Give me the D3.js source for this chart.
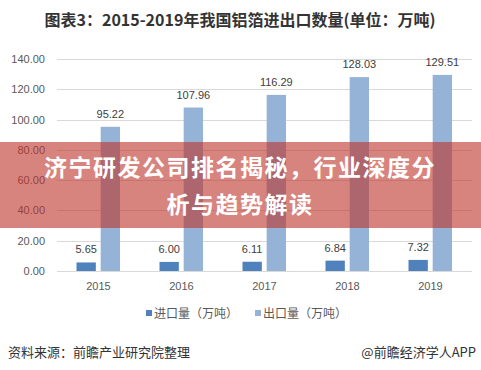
<!DOCTYPE html>
<html>
<head>
<meta charset="utf-8">
<script src="https://cdn.jsdelivr.net/npm/d3@7/dist/d3.min.js"></script>
<style>
  html, body { margin: 0; padding: 0; background: #fff; }
  svg { display: block; }
  .grid line { stroke: #d9d9d9; stroke-width: 1; }
  .tick-label { font-family: "Liberation Sans", Arial, sans-serif; font-size: 11px; fill: #595959; }
  .data-label { font-family: "Liberation Sans", Arial, sans-serif; font-size: 11px; fill: #404040; }
</style>
</head>
<body>
<script>
// chart values
const years = ["2015", "2016", "2017", "2018", "2019"];
const importValues = [5.65, 6.00, 6.11, 6.84, 7.32];
const exportValues = [95.22, 107.96, 116.29, 128.03, 129.51];
const seriesNames = ["进口量（万吨）", "出口量（万吨）"];
const yTicks = [0, 20, 40, 60, 80, 100, 120, 140];

const W = 481, H = 370;
const colors = ["#4f81bd", "#95b3d7"];
const cjk = '"Noto Sans CJK SC", "Microsoft YaHei", sans-serif';

const svg = d3.select("body").append("svg")
  .attr("width", W).attr("height", H)
  .attr("viewBox", `0 0 ${W} ${H}`);

// title
svg.append("text")
  .attr("x", 240).attr("y", 26)
  .attr("text-anchor", "middle")
  .style("font-family", cjk).style("font-size", "16px").style("font-weight", "bold")
  .style("fill", "#333")
  .text("图表3：2015-2019年我国铝箔进出口数量(单位：万吨)");

// scales
const y = d3.scaleLinear().domain([0, 140]).range([271, 59]);
const x0 = d3.scaleBand().domain(years).range([57, 472]);
const x1 = d3.scaleBand().domain([0, 1]).range([19.5, 63]).paddingInner(0.2);

// gridlines
svg.append("g").attr("class", "grid")
  .selectAll("line").data(yTicks).join("line")
  .attr("x1", 57).attr("x2", 472)
  .attr("y1", d => Math.round(y(d)) + 0.5).attr("y2", d => Math.round(y(d)) + 0.5);

// y labels
svg.append("g").selectAll("text").data(yTicks).join("text")
  .attr("class", "tick-label")
  .attr("x", 45).attr("y", d => y(d) + 4)
  .attr("text-anchor", "end")
  .text(d => d.toFixed(2));

// x labels
svg.append("g").selectAll("text").data(years).join("text")
  .attr("class", "tick-label")
  .attr("x", d => x0(d) + x0.bandwidth() / 2).attr("y", 290)
  .attr("text-anchor", "middle")
  .text(d => d);

// bars + data labels
const series = [importValues, exportValues];
series.forEach((vals, si) => {
  const g = svg.append("g");
  g.selectAll("rect").data(vals).join("rect")
    .attr("x", (d, i) => x0(years[i]) + x1(si))
    .attr("width", x1.bandwidth())
    .attr("y", d => y(d))
    .attr("height", d => y(0) - y(d))
    .attr("fill", colors[si]);
  g.selectAll("text").data(vals).join("text")
    .attr("class", "data-label")
    .attr("x", (d, i) => x0(years[i]) + x1(si) + x1.bandwidth() / 2)
    .attr("y", d => y(d) - 9)
    .attr("text-anchor", "middle")
    .text(d => d.toFixed(2));
});

// legend
const legendX = [146, 255];
seriesNames.forEach((name, i) => {
  svg.append("rect")
    .attr("x", legendX[i]).attr("y", 310)
    .attr("width", 6).attr("height", 6)
    .attr("fill", colors[i]);
  svg.append("text")
    .attr("x", legendX[i] + 8).attr("y", 317.5)
    .style("font-family", cjk).style("font-size", "12px").style("fill", "#595959")
    .text(name);
});

// source footer
svg.append("text")
  .attr("x", 8).attr("y", 357)
  .style("font-family", cjk).style("font-size", "13px").style("fill", "#333")
  .text("资料来源：前瞻产业研究院整理");
svg.append("text")
  .attr("x", 476).attr("y", 357)
  .attr("text-anchor", "end")
  .style("font-family", cjk).style("font-size", "13px").style("fill", "#333")
  .text("@前瞻经济学人APP");

// red headline banner across the middle
svg.append("rect")
  .attr("x", 0).attr("y", 142).attr("width", W).attr("height", 86)
  .attr("fill", "rgba(190,50,40,0.6)");
const headline = ["济宁研发公司排名揭秘，行业深度分", "析与趋势解读"];
svg.append("g").selectAll("text").data(headline).join("text")
  .attr("x", 240).attr("y", (d, i) => 176 + i * 37)
  .attr("text-anchor", "middle")
  .style("font-family", cjk).style("font-size", "23px").style("font-weight", "bold")
  .style("fill", "#fff").style("letter-spacing", "1.5px")
  .text(d => d);
</script>
</body>
</html>
